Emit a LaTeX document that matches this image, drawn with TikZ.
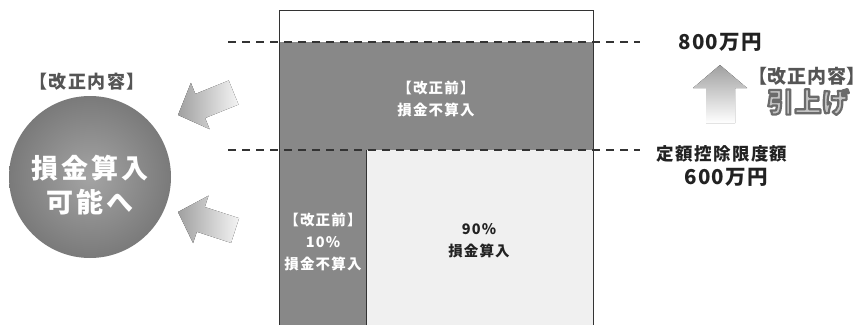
\documentclass[tikz,border=0pt]{standalone}
\usepackage{fontspec}
\setmainfont{Noto Sans CJK JP}
\definecolor{darkfill}{HTML}{888888}
\definecolor{lightfill}{HTML}{F0F0F0}
\definecolor{linec}{HTML}{333333}
\definecolor{txtc}{HTML}{222222}
\definecolor{labc}{HTML}{555555}
\definecolor{circin}{HTML}{A4A4A4}
\definecolor{circout}{HTML}{7A7A7A}
\definecolor{arrdark}{HTML}{A0A0A0}
\definecolor{arrlight}{HTML}{F4F4F4}
\definecolor{hikifill}{HTML}{C4C4C4}
\newcommand{\outlinedtext}[1]{{\color{hikifill}\special{pdf:literal q 2 Tr 2.2 w 1 j 0.42 G}#1\special{pdf:literal Q}}}
\begin{document}
\begin{tikzpicture}[x=1pt,y=-1pt,
  boxtxt/.style={align=center,inner sep=0pt,font=\bfseries\fontsize{14.5}{22}\selectfont\addfontfeature{LetterSpace=8}},
  lab/.style={inner sep=0pt,text=labc,font=\bfseries\fontsize{18}{20}\selectfont\addfontfeature{LetterSpace=8}},
  amount/.style={inner sep=0pt,text=txtc,font=\bfseries\fontsize{20.5}{22}\selectfont\addfontfeature{LetterSpace=6}},
  dline/.style={linec,line width=1.6pt,dash pattern=on 8pt off 6pt},
  bigarrow/.style={left color=arrdark,right color=arrlight}]
\useasboundingbox (0,0) rectangle (867,324);
\clip (0,0) rectangle (867,324);
% box fills
\fill[darkfill] (279,42) rectangle (593,150);
\fill[darkfill] (279,150) rectangle (366,330);
\fill[lightfill] (366,150) rectangle (593,330);
\draw[linec,line width=0.9pt] (279,330) -- (279,10) -- (593,10) -- (593,330);
\draw[linec,line width=0.9pt] (366,150) -- (366,330);
% dashed lines
\coordinate (d1a) at (228,42); \coordinate (d1b) at (640,42);
\coordinate (d2a) at (228,150); \coordinate (d2b) at (640,150);
\draw[dline] (d1a) -- (d1b);
\draw[dline] (d2a) -- (d2b);
% box texts
\node[boxtxt,text=white] (prev1) at (436,99) {【改正前】\\損金不算入};
\node[boxtxt,text=white] (prev2) at (323,242) {【改正前】\\10\%\\損金不算入};
\node[boxtxt,text=txtc] (after) at (479,241) {90\%\\損金算入};
% circle
\node[circle,minimum size=162pt,inner sep=0pt,shading=radial,inner color=circin,outer color=circout] (circ) at (90,177) {};
\node[align=center,inner sep=0pt,text=white,font=\bfseries\fontsize{27}{34}\selectfont\addfontfeature{LetterSpace=10}] (circtxt) at (90,185) {損金算入\\可能へ};
\node[lab] (kaisei1) at (87,82) {【改正内容】};
% diagonal arrows
\begin{scope}[shift={(178,115)},rotate=22]
\fill[bigarrow] (0,0) -- (24,-25) -- (24,-13) -- (60,-13) -- (60,13) -- (24,13) -- (24,25) -- cycle;
\end{scope}
\begin{scope}[shift={(178,212)},rotate=-18]
\fill[bigarrow] (0,0) -- (24,-25) -- (24,-13) -- (60,-13) -- (60,13) -- (24,13) -- (24,25) -- cycle;
\end{scope}
% up arrow
\fill[top color=arrdark,bottom color=white] (720,65) -- (747,88) -- (735,88) -- (735,123) -- (706,123) -- (706,88) -- (693,88) -- cycle;
% right texts
\node[amount] (v800) at (720,42) {800万円};
\node[lab,font=\bfseries\fontsize{19}{22}\selectfont\addfontfeature{LetterSpace=4}] (kaisei2) at (807,76) {【改正内容】};
\node[inner sep=0pt,font=\bfseries\fontsize{27}{30}\selectfont\addfontfeature{LetterSpace=2}] (hikiage) at (808,102) {\outlinedtext{引上げ}};
\node[inner sep=0pt,text=txtc,font=\bfseries\fontsize{17.5}{20}\selectfont\addfontfeature{LetterSpace=8}] (limit) at (722,154) {定額控除限度額};
\node[amount] (v600) at (726,177) {600万円};
\end{tikzpicture}
\end{document}
